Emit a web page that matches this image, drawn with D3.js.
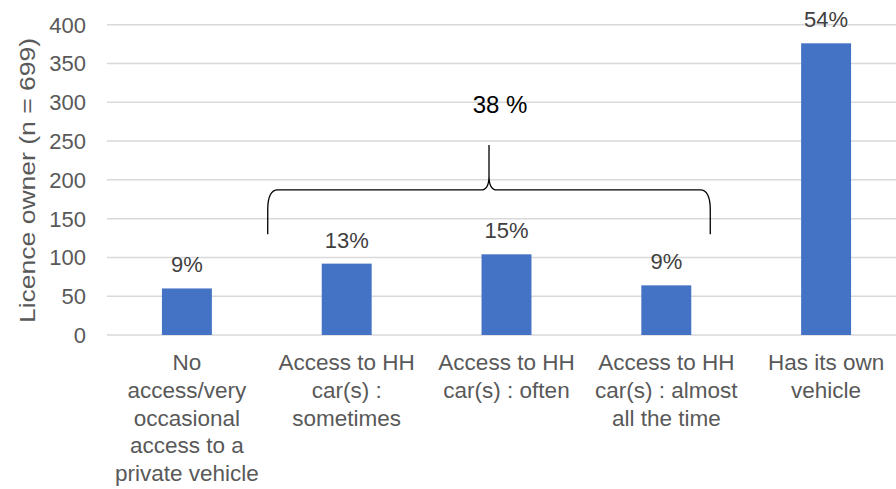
<!DOCTYPE html>
<meta charset="utf-8">
<style>
body{ margin:0; background:#fff; }
svg text{ font-family: Arial, "Liberation Sans", sans-serif; }
.grid line{ stroke:#d9d9d9; stroke-width:1.5px; }
</style>
<svg width="896" height="489"></svg>
<script src="https://d3js.org/d3.v7.min.js"></script>
<script>

var categories = [
  ["No", "access/very", "occasional", "access to a", "private vehicle"],
  ["Access to HH", "car(s) :", "sometimes"],
  ["Access to HH", "car(s) : often"],
  ["Access to HH", "car(s) : almost", "all the time"],
  ["Has its own", "vehicle"]
];
var values = [60, 92, 104, 64, 376];
var pctLabels = ["9%", "13%", "15%", "9%", "54%"];
var yTicks = [0, 50, 100, 150, 200, 250, 300, 350, 400];
var groupLabel = "38 %";
var yTitle = "Licence owner (n = 699)";

var svg = d3.select("svg"),
    width = +svg.attr("width"),
    height = +svg.attr("height");

var plotLeft = 107, plotRight = 906, plotTop = 24.7, plotBottom = 335;

var x = d3.scaleBand()
    .domain(d3.range(categories.length))
    .range([plotLeft, plotRight])
    .paddingInner(0.6875)
    .paddingOuter(0.34375);

var y = d3.scaleLinear().domain([0, 400]).range([plotBottom, plotTop]);

// gridlines
svg.append("g").attr("class", "grid")
  .selectAll("line")
  .data(yTicks)
  .enter().append("line")
    .attr("x1", plotLeft).attr("x2", width)
    .attr("y1", function(d){ return y(d); })
    .attr("y2", function(d){ return y(d); });

// y tick labels
svg.append("g")
  .selectAll("text")
  .data(yTicks)
  .enter().append("text")
    .attr("x", 86)
    .attr("y", function(d){ return y(d); })
    .attr("dy", "0.36em")
    .attr("text-anchor", "end")
    .attr("fill", "#595959")
    .style("font-size", "22px")
    .text(function(d){ return d; });

// axis title
svg.append("text")
  .attr("transform", "translate(27," + ((38 + 323) / 2) + ") rotate(-90)")
  .attr("text-anchor", "middle")
  .attr("dy", "0.35em")
  .attr("fill", "#595959")
  .style("font-size", "22px")
  .attr("textLength", 285)
  .attr("lengthAdjust", "spacingAndGlyphs")
  .text(yTitle);

// bars
svg.append("g")
  .selectAll("rect")
  .data(values)
  .enter().append("rect")
    .attr("x", function(d, i){ return x(i); })
    .attr("y", function(d){ return y(d); })
    .attr("width", x.bandwidth())
    .attr("height", function(d){ return y(0) - y(d); })
    .attr("fill", "#4472c4");

// value labels
svg.append("g")
  .selectAll("text")
  .data(values)
  .enter().append("text")
    .attr("x", function(d, i){ return x(i) + x.bandwidth() / 2; })
    .attr("y", function(d){ return y(d) - 16; })
    .attr("text-anchor", "middle")
    .attr("fill", "#404040")
    .style("font-size", "22px")
    .text(function(d, i){ return pctLabels[i]; });

// category labels
var cat = svg.append("g")
  .selectAll("g")
  .data(categories)
  .enter().append("g")
    .attr("transform", function(d, i){
      return "translate(" + (x(i) + x.bandwidth() / 2) + ",370)";
    });

cat.selectAll("text")
  .data(function(d){ return d; })
  .enter().append("text")
    .attr("y", function(d, j){ return j * 27.8; })
    .attr("text-anchor", "middle")
    .attr("fill", "#595959")
    .style("font-size", "22.5px")
    .text(function(d){ return d; });

// brace over middle three categories
var bx0 = x(1) - 54,
    bx1 = x(3) + x.bandwidth() + 19,
    bm = (bx0 + bx1) / 2,
    bLow = y(130), bMid = y(187), bTip = y(245), r = 10;

var p = d3.path();
p.moveTo(bx0, bLow);
p.lineTo(bx0, bMid + r + 10);
p.quadraticCurveTo(bx0, bMid, bx0 + r, bMid);
p.lineTo(bm - 8, bMid);
p.quadraticCurveTo(bm, bMid, bm, bMid - 14);
p.lineTo(bm, bTip);
p.moveTo(bm, bMid - 14);
p.quadraticCurveTo(bm, bMid, bm + 8, bMid);
p.lineTo(bx1 - r, bMid);
p.quadraticCurveTo(bx1, bMid, bx1, bMid + r + 10);
p.lineTo(bx1, bLow);

svg.append("path")
  .attr("d", p.toString())
  .attr("fill", "none")
  .attr("stroke", "#000")
  .attr("stroke-width", 1.3);

svg.append("text")
  .attr("x", bm + 11)
  .attr("y", 113)
  .attr("text-anchor", "middle")
  .attr("fill", "#000")
  .style("font-size", "24px")
  .text(groupLabel);

</script>
